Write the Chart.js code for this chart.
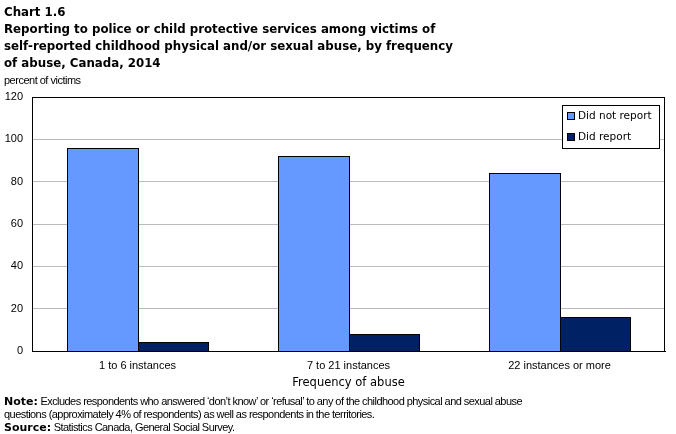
<!DOCTYPE html>
<html><head><meta charset="utf-8">
<script src="https://cdn.jsdelivr.net/npm/chart.js@4/dist/chart.umd.min.js"></script>
<style>
html,body{margin:0;padding:0;background:#fff;}
#wrap{position:relative;width:676px;height:434px;overflow:hidden;font-family:"DejaVu Sans",Verdana,sans-serif;color:#000;}
canvas{position:absolute;left:0;top:0;}
.t{position:absolute;left:4px;white-space:nowrap;}
#title{top:4px;font-weight:bold;font-size:11.8px;line-height:17px;}
#ylab{top:74px;font-family:"Liberation Sans",Arial,sans-serif;font-size:11px;letter-spacing:-0.5px;}
#notes{top:395px;font-family:"Liberation Sans",Arial,sans-serif;font-size:11px;line-height:13px;letter-spacing:-0.55px;}
#notes b{font-family:"DejaVu Sans",Verdana,sans-serif;letter-spacing:0;}
</style></head>
<body>
<div id="wrap">
<canvas id="c" width="676" height="434"></canvas>
<div class="t" id="title">Chart 1.6<br>Reporting to police or child protective services among victims of<br>self-reported childhood physical and/or sexual abuse, by frequency<br>of abuse, Canada, 2014</div>
<div class="t" id="ylab">percent of victims</div>
<div class="t" id="notes"><b>Note:</b> Excludes respondents who answered ‘don’t know’ or ‘refusal’ to any of the childhood physical and sexual abuse<br>questions (approximately 4% of respondents) as well as respondents in the territories.<br><b>Source:</b> Statistics Canada, General Social Survey.</div>
</div>
<script>
const categories = ["1 to 6 instances", "7 to 21 instances", "22 instances or more"];
const didNotReport = [95.8, 92.1, 84.1];
const didReport = [4.2, 7.9, 15.9];
const seriesLabels = ["Did not report", "Did report"];
const xAxisTitle = "Frequency of abuse";

const tickFont = { family: '"Liberation Sans", Arial, sans-serif', size: 11 };

const boxLegend = {
  id: 'boxLegend',
  afterDraw(chart) {
    const ctx = chart.ctx;
    const x0 = 562, y0 = 105, w = 97, h = 43;
    ctx.save();
    ctx.fillStyle = '#fff';
    ctx.fillRect(x0, y0, w, h);
    ctx.strokeStyle = '#000';
    ctx.lineWidth = 1;
    ctx.strokeRect(x0 + 0.5, y0 + 0.5, w, h);
    ctx.font = '10.5px "DejaVu Sans", Verdana, sans-serif';
    ctx.textBaseline = 'middle';
    chart.data.datasets.forEach((ds, i) => {
      const cy = y0 + 11 + i * 21;
      ctx.fillStyle = ds.backgroundColor;
      ctx.fillRect(x0 + 5, cy - 4, 8, 8);
      ctx.strokeStyle = '#000';
      ctx.strokeRect(x0 + 5.5, cy - 3.5, 7, 7);
      ctx.fillStyle = '#000';
      ctx.fillText(ds.label, x0 + 16, cy);
    });
    ctx.restore();
  }
};

const crispBars = {
  id: 'crispBars',
  afterDatasetsDraw(chart) {
    const ctx = chart.ctx;
    ctx.save();
    chart.data.datasets.forEach((ds, di) => {
      chart.getDatasetMeta(di).data.forEach(el => {
        const p = el.getProps(['x', 'y', 'base', 'width'], true);
        const l = Math.round(p.x - p.width / 2), r = Math.round(p.x + p.width / 2);
        const t = Math.round(p.y), b = Math.round(p.base);
        ctx.fillStyle = ds.backgroundColor;
        ctx.fillRect(l, t, r - l, b - t);
        ctx.strokeStyle = '#000';
        ctx.lineWidth = 1;
        ctx.strokeRect(l + 0.5, t + 0.5, r - l, b - t);
      });
    });
    ctx.restore();
  }
};

new Chart(document.getElementById('c'), {
  type: 'bar',
  data: {
    labels: categories,
    datasets: [
      { label: seriesLabels[0], data: didNotReport, backgroundColor: '#6699FF', borderWidth: 0 },
      { label: seriesLabels[1], data: didReport, backgroundColor: '#002163', borderWidth: 0 }
    ]
  },
  options: {
    responsive: false,
    animation: false,
    devicePixelRatio: 1,
    layout: { padding: { top: 97, right: 11, left: 0, bottom: 0 } },
    datasets: { bar: { categoryPercentage: 0.668, barPercentage: 1.0 } },
    plugins: { legend: { display: false }, tooltip: { enabled: false } },
    scales: {
      x: {
        grid: { display: false, drawTicks: false },
        border: { display: true, color: '#000', width: 1 },
        ticks: { padding: 8, color: '#000', font: tickFont },
        title: { display: true, text: xAxisTitle, color: '#000', padding: { top: 6, bottom: 44 }, font: { family: '"DejaVu Sans", Verdana, sans-serif', size: 11.5 } },
        afterFit(s) { s.height = 83; }
      },
      y: {
        min: 0, max: 120,
        ticks: { stepSize: 20, padding: 9, color: '#000', font: tickFont },
        grid: { color: '#bbbbbb', lineWidth: 1, drawTicks: false },
        border: { display: true, color: '#000', width: 1 },
        afterFit(s) { s.width = 32; }
      }
    }
  },
  plugins: [crispBars, {
    id: 'frame',
    afterDatasetsDraw(chart) {
      const a = chart.chartArea, ctx = chart.ctx;
      ctx.save();
      ctx.strokeStyle = '#000';
      ctx.lineWidth = 1;
      ctx.strokeRect(Math.round(a.left) + 0.5, Math.round(a.top) + 0.5, Math.round(a.right - a.left) - 1, Math.round(a.bottom - a.top));
      ctx.restore();
    }
  }, boxLegend]
});
</script>
</body></html>
